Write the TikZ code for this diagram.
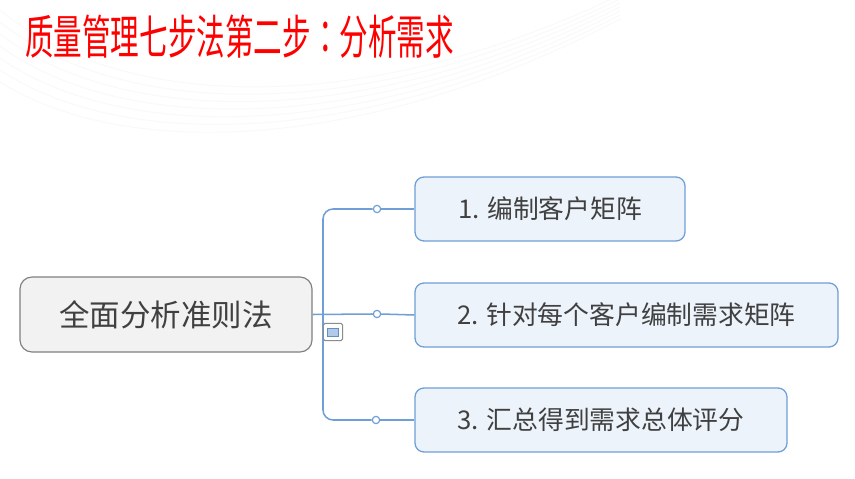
\documentclass[tikz,border=0pt]{standalone}
\usepackage{fontspec}
\setmainfont{Noto Sans CJK SC}
\newfontfamily\colonfont{Noto Sans CJK TC}
\usepackage{tikz}
\usetikzlibrary{positioning,calc}
\definecolor{titlered}{HTML}{FF0000}
\definecolor{branchblue}{HTML}{6F9FD6}
\definecolor{leaffill}{HTML}{EDF3FB}
\definecolor{hubfill}{HTML}{F2F2F2}
\definecolor{inkgray}{HTML}{404040}
\tikzset{
  titletext/.style={font=\fontsize{40}{44}\selectfont,text=titlered,inner sep=0pt,anchor=west},
  hubbox/.style={draw=black!50,fill=hubfill,rounded corners=0.36cm,line width=1pt,
    minimum width=8.76cm,minimum height=2.25cm,text=inkgray,
    font=\fontsize{26}{30}\selectfont},
  leafbox/.style={draw=branchblue,fill=leaffill,rounded corners=0.27cm,line width=1.1pt,
    minimum height=1.92cm,text=inkgray,font=\fontsize{22}{26}\selectfont},
  branchline/.style={draw=branchblue,line width=1.3pt},
  knob/.style={circle,draw=branchblue,fill=white,line width=1pt,minimum size=0.22cm,inner sep=0pt},
  toggleout/.style={draw=black!45,fill=white,rounded corners=0.05cm,line width=0.9pt,
    minimum width=0.58cm,minimum height=0.52cm,inner sep=0pt},
  togglein/.style={draw=branchblue!90!black,fill=branchblue!55,line width=0.5pt,
    minimum width=0.33cm,minimum height=0.24cm,inner sep=0pt}
}
\begin{document}
\begin{tikzpicture}[x=0.03cm,y=-0.03cm]
  \useasboundingbox[fill=white] (0,0) rectangle (855,479);
  % faint background waves
  \foreach \i in {0,...,6}
    \draw[black!2.5,line width=0.8pt] (0,{10+12*\i}) .. controls (120,{110+8*\i}) and (360,{120+6*\i}) .. (620,{-5+4*\i});

  \node[titletext] (title) at (25,37) {\scalebox{0.61}[1]{质量管理七步法第二步{\colonfont ：}分析需求}};

  \node[hubbox] (hub) at (166,314.5) {全面分析准则法};
  \node[leafbox,minimum width=8.1cm] (leafa) at (550,209) {1. 编制客户矩阵};
  \node[leafbox,minimum width=12.69cm] (leafb) at (626.5,315) {2. 针对每个客户编制需求矩阵};
  \node[leafbox,minimum width=11.16cm] (leafc) at (601,420) {3. 汇总得到需求总体评分};

  \node[knob] (knoba) at (377,209) {};
  \node[knob] (knobb) at (377,314) {};
  \node[knob] (knobc) at (376,420) {};
  \coordinate (fork) at (323,314);

  \draw[branchline,rounded corners=0.3cm] (knoba.west) -| (fork) |- (knobc.west);
  \draw[branchline] (hub.east) -- (knobb.west);
  \draw[branchline] (knoba.east) -- (leafa.west);
  \draw[branchline] (knobb.east) -- (leafb.west);
  \draw[branchline] (knobc.east) -- (leafc.west);

  \node[toggleout] (toggle) at (333,332) {};
  \node[togglein] (togglemark) at (toggle) {};
\end{tikzpicture}
\end{document}
